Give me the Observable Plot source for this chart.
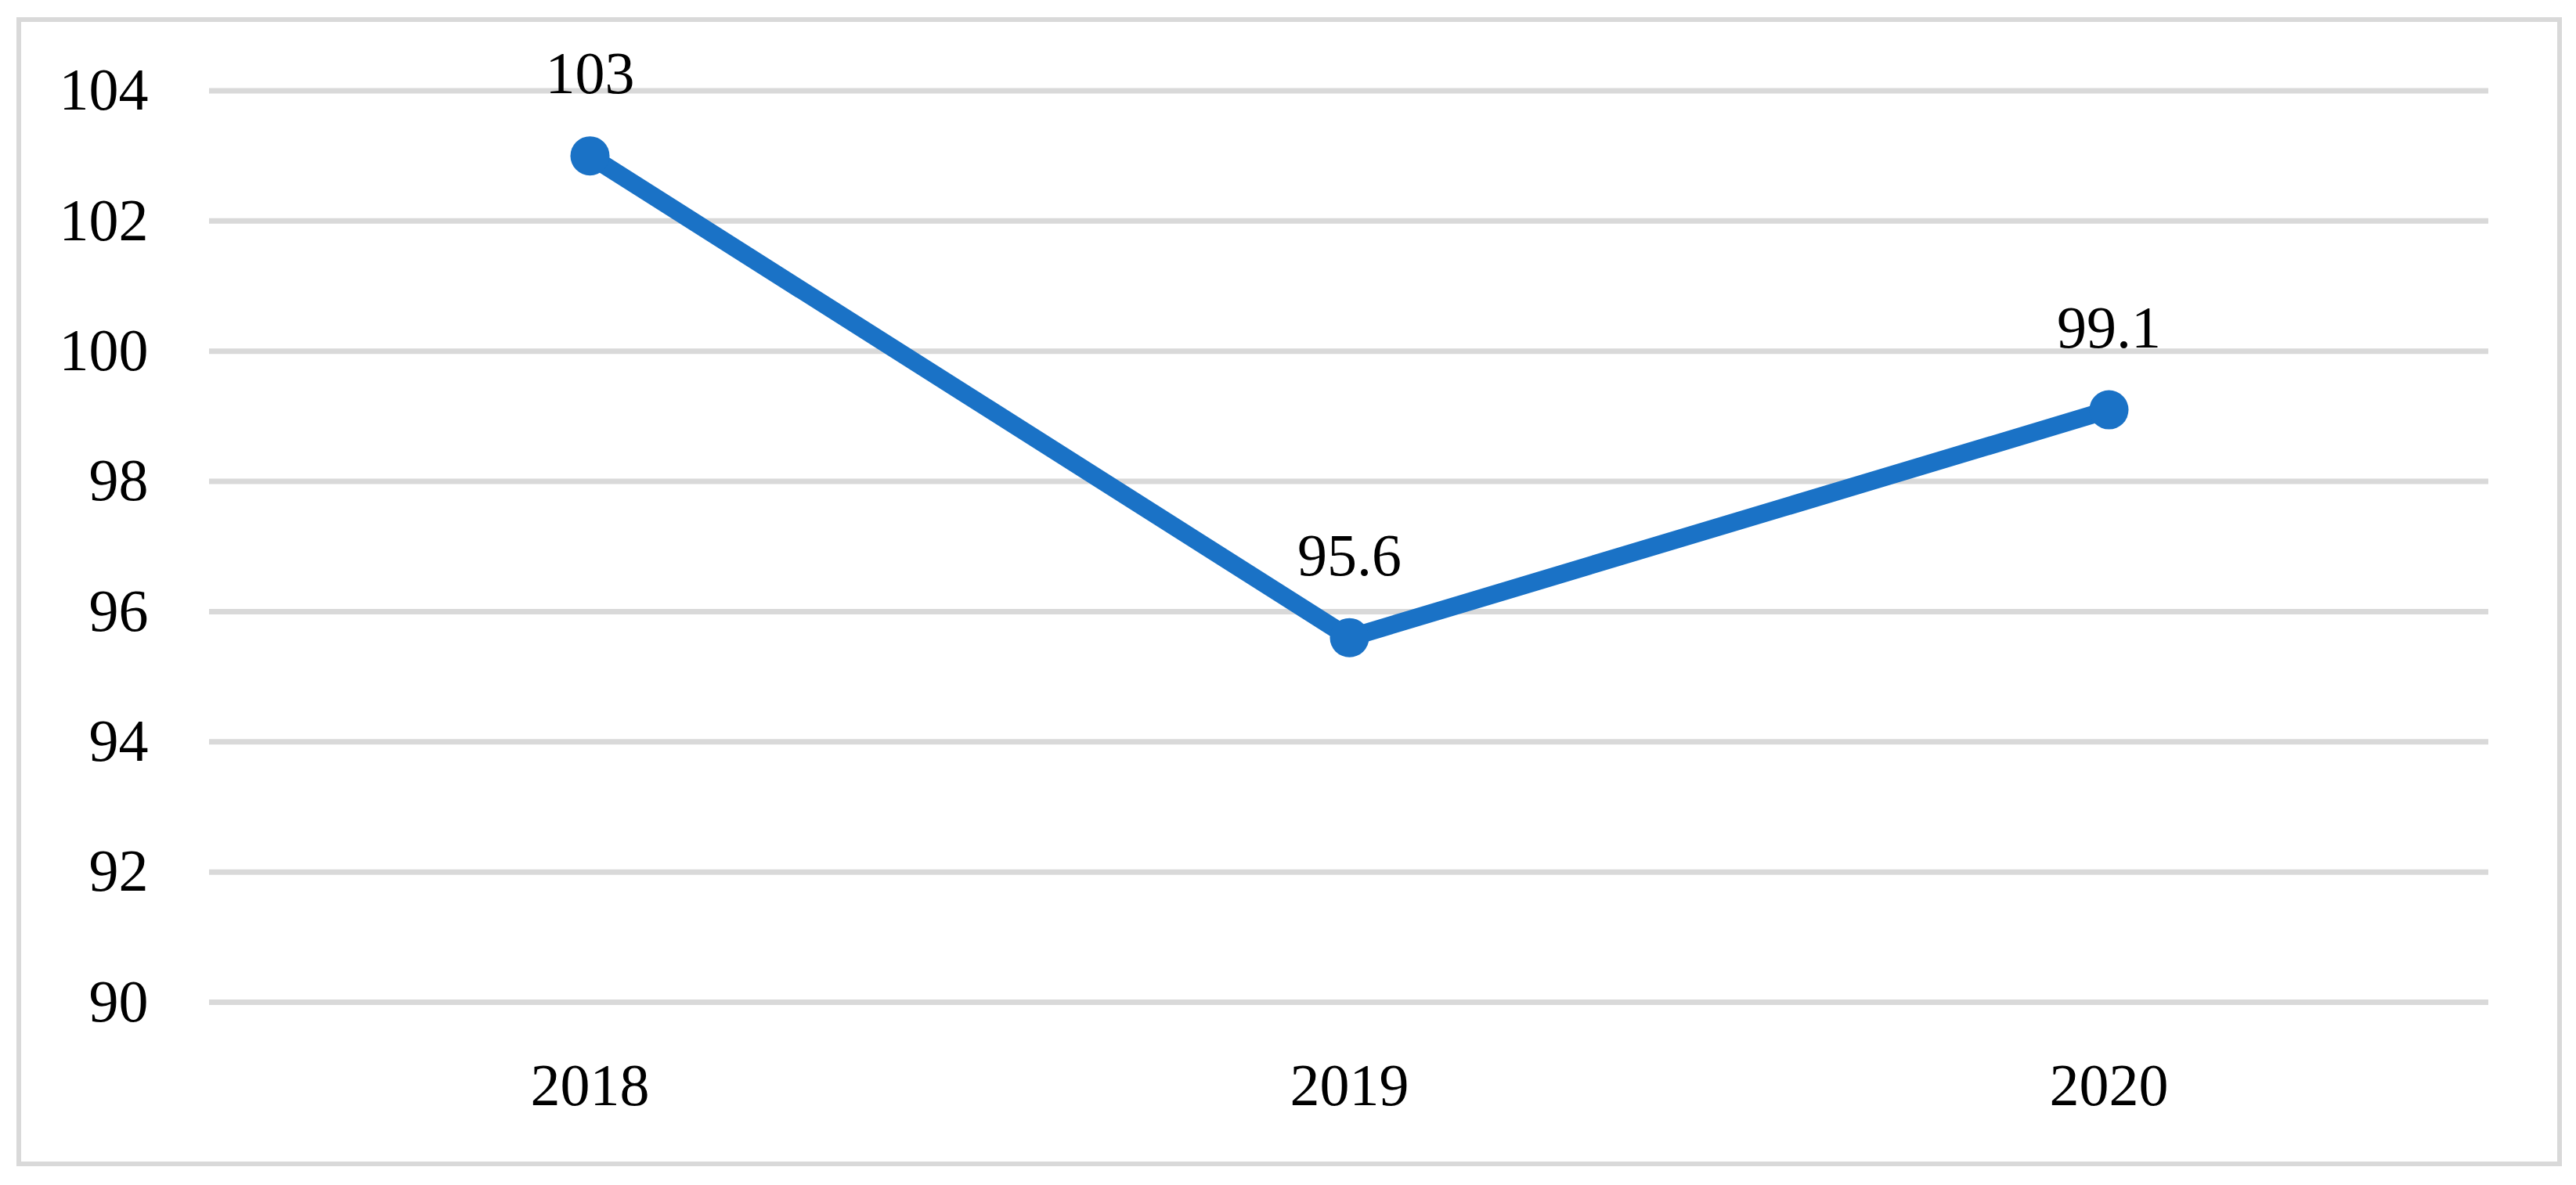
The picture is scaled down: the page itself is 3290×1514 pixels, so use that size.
<!DOCTYPE html>
<html>
<head>
<meta charset="utf-8">
<script src="https://cdn.jsdelivr.net/npm/d3@7"></script>
<script src="https://cdn.jsdelivr.net/npm/@observablehq/plot@0.6"></script>
<style>
  html, body { margin: 0; padding: 0; background: #fff; }
  #wrap { position: relative; width: 3290px; height: 1514px; overflow: hidden; }
  #frame { position: absolute; left: 21px; top: 22px; width: 3251px; height: 1468px;
           border: 6px solid #d9d9d9; box-sizing: border-box; pointer-events: none; }
  #chart { position: absolute; left: 0; top: 0; }
</style>
</head>
<body>
<div id="wrap"><div id="chart"></div><div id="frame"></div></div>
<script>
const years = ["2018", "2019", "2020"];
const values = [103, 95.6, 99.1];
const valueLabels = ["103", "95.6", "99.1"];
const yTicks = [90, 92, 94, 96, 98, 100, 102, 104];

const data = years.map((y, i) => ({year: y, value: values[i], label: valueLabels[i]}));

const blue = "#1a72c6";
const font = "'Liberation Serif', 'DejaVu Serif', serif";

const chart = Plot.plot({
  width: 3290,
  height: 1514,
  marginLeft: 267,
  marginRight: 112,
  marginTop: 115.5,
  marginBottom: 234,
  style: {fontFamily: font, fontSize: "76px", color: "#000", background: "transparent"},
  x: {type: "point", domain: years, padding: 0.5, label: null},
  y: {domain: [90, 104], label: null},
  marks: [
    Plot.gridY(yTicks, {stroke: "#d9d9d9", strokeOpacity: 1, strokeWidth: 7}),
    Plot.axisY(yTicks, {tickSize: 0, tickPadding: 78, fontSize: 76, fill: "#000", label: null,
                        tickFormat: d => String(d)}),
    Plot.axisX({tickSize: 0, tickPadding: 78, fontSize: 76, fill: "#000", label: null}),
    Plot.line(data, {x: "year", y: "value", stroke: blue, strokeWidth: 23, strokeLinejoin: "round"}),
    Plot.dot(data, {x: "year", y: "value", r: 25, fill: blue, stroke: "none"}),
    Plot.text(data, {x: "year", y: "value", text: "label", dy: -80, lineAnchor: "bottom",
                     fontSize: 76, fill: "#000", textAnchor: "middle"})
  ]
});
document.getElementById("chart").appendChild(chart);
</script>
</body>
</html>
